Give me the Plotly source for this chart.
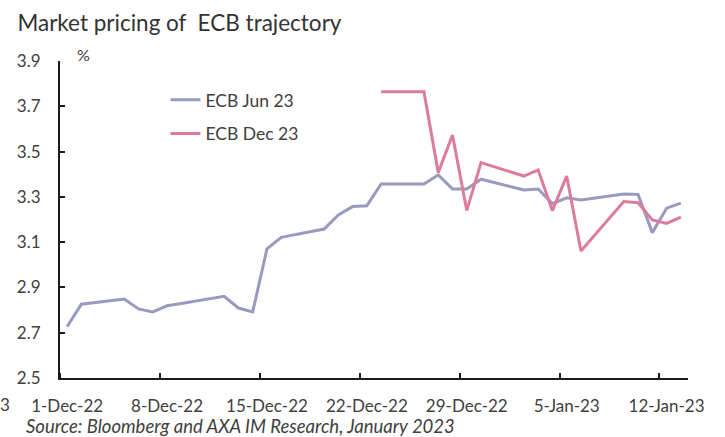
import plotly.graph_objects as go

dates_jun = ["2022-12-01", "2022-12-02", "2022-12-05", "2022-12-06", "2022-12-07", "2022-12-08",
             "2022-12-09", "2022-12-12", "2022-12-13", "2022-12-14", "2022-12-15", "2022-12-16",
             "2022-12-19", "2022-12-20", "2022-12-21", "2022-12-22", "2022-12-23", "2022-12-26",
             "2022-12-27", "2022-12-28", "2022-12-29", "2022-12-30", "2023-01-02", "2023-01-03",
             "2023-01-04", "2023-01-05", "2023-01-06", "2023-01-09", "2023-01-10", "2023-01-11",
             "2023-01-12", "2023-01-13"]
ecb_jun23 = [2.727, 2.826, 2.849, 2.805, 2.792, 2.819,
             2.829, 2.861, 2.809, 2.792, 3.070, 3.121,
             3.158, 3.220, 3.257, 3.261, 3.357, 3.357,
             3.397, 3.335, 3.335, 3.378, 3.330, 3.335,
             3.270, 3.296, 3.286, 3.313, 3.311, 3.142,
             3.250, 3.272]

dates_dec = ["2022-12-23", "2022-12-26", "2022-12-27", "2022-12-28", "2022-12-29", "2022-12-30",
             "2023-01-02", "2023-01-03", "2023-01-04", "2023-01-05", "2023-01-06", "2023-01-09",
             "2023-01-10", "2023-01-11", "2023-01-12", "2023-01-13"]
ecb_dec23 = [3.764, 3.764, 3.407, 3.573, 3.240, 3.451,
             3.392, 3.419, 3.239, 3.392, 3.061, 3.279,
             3.274, 3.198, 3.183, 3.210]

tick_dates = ["2022-12-01", "2022-12-08", "2022-12-15", "2022-12-22", "2022-12-29",
              "2023-01-05", "2023-01-12"]
tick_labels = ["1-Dec-22", "8-Dec-22", "15-Dec-22", "22-Dec-22", "29-Dec-22",
               "5-Jan-23", "12-Jan-23"]

FONT = "Lato, 'Open Sans', sans-serif"
TXT = "#404040"

fig = go.Figure()
fig.add_trace(go.Scatter(x=dates_jun, y=ecb_jun23, mode="lines", name="ECB Jun 23",
                         line=dict(color="#9A9AC0", width=3), legendgroup="a"))
fig.add_trace(go.Scatter(x=dates_dec, y=ecb_dec23, mode="lines", name="ECB Dec 23",
                         line=dict(color="#DC7C9C", width=3), legendgroup="b"))

fig.update_layout(
    width=725, height=437,
    margin=dict(l=60, r=37, t=61, b=59, autoexpand=False),
    paper_bgcolor="white", plot_bgcolor="white",
    font=dict(family=FONT, size=17, color=TXT),
    showlegend=True,
    legend=dict(x=0.168, y=0.934, xanchor="left", yanchor="top",
                font=dict(size=17.5, color=TXT), bgcolor="rgba(0,0,0,0)",
                tracegroupgap=8, itemwidth=30),
    title=dict(text="Market pricing of  ECB trajectory", x=0.024, xanchor="left",
               xref="container", yref="container",
               y=0.966, yanchor="top", font=dict(size=22.5, color="#333333", family=FONT)),
)

fig.update_xaxes(
    type="date", automargin=False,
    range=["2022-11-30 12:00", "2023-01-13 12:00"],
    tickvals=tick_dates, ticktext=tick_labels, ticks="",
    showgrid=False, zeroline=False,
    showline=True, linecolor="#1a1a1a", linewidth=2,
    ticklabelstandoff=12,
    tickfont=dict(size=17, color=TXT),
    minor=dict(tick0="2022-11-30 12:00", dtick=7 * 86400000, ticks="inside",
               ticklen=5, tickcolor="#1a1a1a", tickwidth=2, showgrid=False),
)
fig.update_yaxes(
    automargin=False,
    range=[2.5, 3.9], tick0=2.5, dtick=0.2, tickformat=".1f",
    ticks="inside", ticklen=5, tickcolor="#1a1a1a", tickwidth=2,
    showgrid=False, zeroline=False,
    showline=True, linecolor="#1a1a1a", linewidth=2,
    ticklabelstandoff=14,
    tickfont=dict(size=17, color=TXT),
)

fig.add_annotation(text="%", xref="paper", yref="paper", x=0.037, y=1.02,
                   xanchor="center", yanchor="middle", showarrow=False,
                   font=dict(size=16, color=TXT))
fig.add_annotation(text="<i>Source: Bloomberg and AXA IM Research, January 2023</i>",
                   xref="paper", yref="paper", x=-0.058, y=-0.151,
                   xanchor="left", yanchor="middle", showarrow=False,
                   font=dict(size=18.5, color=TXT))
fig.add_annotation(text="3", xref="paper", yref="paper", x=-0.087, y=-0.085,
                   xanchor="center", yanchor="middle", showarrow=False,
                   font=dict(size=17, color=TXT))

fig.write_html("out.html", config={"displayModeBar": False},
               post_script="document.body.style.margin='0';")
